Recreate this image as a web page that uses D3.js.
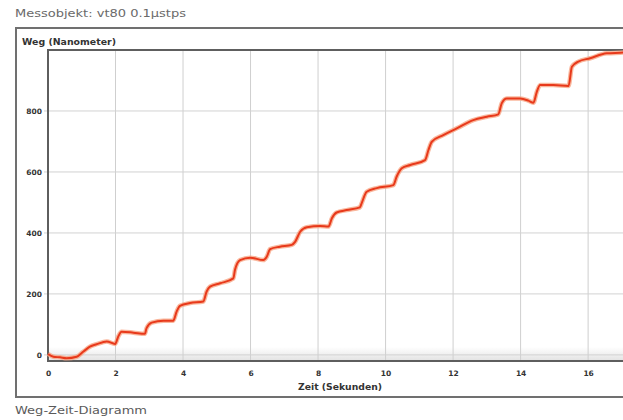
<!DOCTYPE html>
<html>
<head>
<meta charset="utf-8">
<script src="https://cdn.jsdelivr.net/npm/d3@7"></script>
<style>
  html, body { margin: 0; padding: 0; background: #fff; }
  svg { display: block; }
</style>
</head>
<body>
<svg id="chart" width="623" height="420"></svg>
<script>
// ---- data ----
const timeSec = [0, 0.16, 0.36, 0.55, 0.85, 1.05, 1.24, 1.44, 1.74, 1.99, 2.08, 2.18, 2.53, 2.87, 2.92, 3.07, 3.42, 3.71, 3.81, 3.91, 4.21, 4.60, 4.70, 4.80, 5.10, 5.49, 5.54, 5.69, 5.99, 6.38, 6.48, 6.58, 6.87, 7.22, 7.32, 7.47, 7.67, 8.06, 8.31, 8.41, 8.55, 8.85, 9.24, 9.29, 9.44, 9.74, 10.23, 10.33, 10.48, 10.73, 11.17, 11.27, 11.37, 11.71, 12.11, 12.60, 13.00, 13.34, 13.44, 13.59, 13.99, 14.23, 14.38, 14.48, 14.58, 14.97, 15.42, 15.52, 15.71, 16.06, 16.55, 16.95, 17.3];
const wegNm   = [3, -6, -8, -11, -6, 11, 27, 35, 44, 36, 60, 76, 73, 69, 88, 106, 112, 112, 142, 161, 170, 175, 208, 224, 235, 251, 279, 311, 319, 311, 322, 347, 355, 361, 371, 404, 419, 423, 421, 448, 467, 475, 484, 497, 535, 547, 557, 585, 612, 623, 639, 672, 699, 721, 743, 770, 781, 789, 825, 841, 841, 834, 827, 863, 885, 885, 882, 945, 962, 973, 989, 991, 993];
const xTicks = [0, 2, 4, 6, 8, 10, 12, 14, 16];
const yTicks = [0, 200, 400, 600, 800];
const titleText = "Messobjekt: vt80 0.1µstps";
const captionText = "Weg-Zeit-Diagramm";
const yAxisTitle = "Weg (Nanometer)";
const xAxisTitle = "Zeit (Sekunden)";

const points = timeSec.map((t, i) => ({ t, v: wegNm[i] }));

// ---- layout ----
const svg = d3.select("#chart");
const plot = { left: 48, top: 50, right: 632, bottom: 361 };
const x = d3.scaleLinear().domain([0, 17.3]).range([plot.left, plot.right]);
const y = d3.scaleLinear().domain([-20, 1000]).range([plot.bottom, plot.top]);

svg.append("rect").attr("width", 623).attr("height", 420).attr("fill", "#fff");

// title & caption
svg.append("text").attr("x", 15).attr("y", 17)
  .attr("font-family", "DejaVu Sans").attr("font-size", 11)
  .attr("fill", "#6a6a6a").attr("textLength", 171).attr("lengthAdjust", "spacingAndGlyphs")
  .text(titleText);
svg.append("text").attr("x", 15).attr("y", 414)
  .attr("font-family", "DejaVu Sans").attr("font-size", 11)
  .attr("fill", "#5a5a5a").attr("textLength", 132).attr("lengthAdjust", "spacingAndGlyphs")
  .text(captionText);

// outer frame
svg.append("rect").attr("x", 16).attr("y", 28).attr("width", 640).attr("height", 369)
  .attr("fill", "#fff").attr("stroke", "#707070").attr("stroke-width", 2);

// subtle shading band at bottom of plot
const defs = svg.append("defs");
const grad = defs.append("linearGradient").attr("id", "band").attr("x1", 0).attr("y1", 0).attr("x2", 0).attr("y2", 1);
grad.append("stop").attr("offset", "0%").attr("stop-color", "#ffffff");
grad.append("stop").attr("offset", "100%").attr("stop-color", "#e2e2e2");
svg.append("rect").attr("x", plot.left).attr("y", 347).attr("width", plot.right - plot.left).attr("height", plot.bottom - 347)
  .attr("fill", "url(#band)");

// grid
svg.append("g").selectAll("line").data(xTicks).join("line")
  .attr("x1", d => x(d)).attr("x2", d => x(d))
  .attr("y1", plot.top).attr("y2", plot.bottom)
  .attr("stroke", "#cfcfcf").attr("stroke-width", 1);
svg.append("g").selectAll("line").data(yTicks).join("line")
  .attr("x1", plot.left - 4).attr("x2", plot.right)
  .attr("y1", d => y(d)).attr("y2", d => y(d))
  .attr("stroke", "#d2d2d2").attr("stroke-width", 1);

// axes labels via d3 axes
const yAxis = svg.append("g").attr("transform", `translate(${plot.left},0)`)
  .call(d3.axisLeft(y).tickValues(yTicks).tickSize(0).tickPadding(6));
yAxis.select(".domain").remove();
yAxis.selectAll("text").attr("font-family", "DejaVu Sans").attr("font-weight", "bold")
  .attr("font-size", 7.5).attr("fill", "#333");

const xAxis = svg.append("g").attr("transform", `translate(0,${plot.bottom})`)
  .call(d3.axisBottom(x).tickValues(xTicks).tickSize(0).tickPadding(10));
xAxis.select(".domain").remove();
xAxis.selectAll("text").attr("font-family", "DejaVu Sans").attr("font-weight", "bold")
  .attr("font-size", 7.5).attr("fill", "#333");

// axis titles
svg.append("text").attr("x", 22).attr("y", 45)
  .attr("font-family", "DejaVu Sans").attr("font-weight", "bold").attr("font-size", 8.5)
  .attr("fill", "#333").attr("textLength", 94).attr("lengthAdjust", "spacingAndGlyphs")
  .text(yAxisTitle);
svg.append("text").attr("x", (plot.left + plot.right) / 2).attr("y", 390)
  .attr("text-anchor", "middle")
  .attr("font-family", "DejaVu Sans").attr("font-weight", "bold").attr("font-size", 8.5)
  .attr("fill", "#333").attr("textLength", 84).attr("lengthAdjust", "spacingAndGlyphs")
  .text(xAxisTitle);

// plot frame
svg.append("rect").attr("x", plot.left).attr("y", plot.top)
  .attr("width", plot.right - plot.left).attr("height", plot.bottom - plot.top)
  .attr("fill", "none").attr("stroke", "#5e5e5e").attr("stroke-width", 2);

// curve
const line = d3.line().x(d => x(d.t)).y(d => y(d.v)).curve(d3.curveMonotoneX);
svg.append("path").datum(points).attr("d", line)
  .attr("fill", "none").attr("stroke", "#f7a585").attr("stroke-width", 4.5)
  .attr("stroke-linejoin", "round").attr("opacity", 0.8);
svg.append("path").datum(points).attr("d", line)
  .attr("fill", "none").attr("stroke", "#e8391b").attr("stroke-width", 2)
  .attr("stroke-linejoin", "round");
</script>
</body>
</html>
